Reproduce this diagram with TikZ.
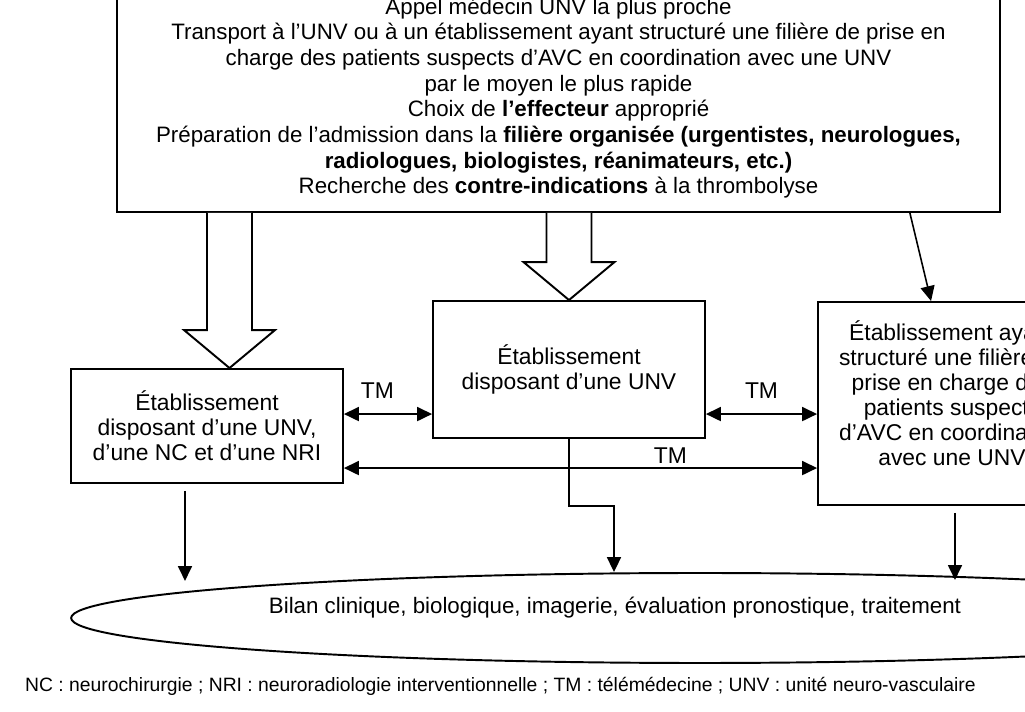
\documentclass[tikz,border=0pt]{standalone}
\usepackage{fontspec}
\setmainfont{Liberation Sans}
\usetikzlibrary{shapes.geometric,arrows.meta,positioning,calc}

\newcommand{\grossefleche}[2]{% #1 = depart, #2 = pointe
  \draw[creuse] ($(#1)+(-22.5,0)$) -- ($(#2)+(-22.5,-38)$) -- ($(#2)+(-45.5,-38)$) -- (#2)
    -- ($(#2)+(45.5,-38)$) -- ($(#2)+(22.5,-38)$) -- ($(#1)+(22.5,0)$);
}

\begin{document}
\begin{tikzpicture}[x=0.02cm, y=-0.02cm,
    font=\fontsize{13}{14.2}\selectfont,
    boite/.style={rectangle, draw, line width=1.1pt, align=center, inner sep=0pt, minimum width=5.44cm},
    fleche/.style={-{Triangle[length=8.5pt,width=8pt]}, line width=0.9pt},
    tm/.style={{Triangle[length=8.5pt,width=8pt]}-{Triangle[length=8.5pt,width=8pt]}, line width=0.9pt},
    creuse/.style={line width=1.1pt, fill=white, line join=miter}
]
    \useasboundingbox (0,0) rectangle (1025,712);
    \clip (0,0) rectangle (1025,712);

    % regulation
    \node[boite, minimum width=17.66cm, minimum height=4.56cm, font=\fontsize{12.7}{14.6}\selectfont] (regul) at (558.5,98) {Appel médecin UNV la plus proche\\
        Transport à l’UNV ou à un établissement ayant structuré une filière de prise en\\
        charge des patients suspects d’AVC en coordination avec une UNV\\
        par le moyen le plus rapide\\
        Choix de \textbf{l’effecteur} approprié\\
        Préparation de l’admission dans la \textbf{filière organisée (urgentistes, neurologues,}\\
        \textbf{radiologues, biologistes, réanimateurs, etc.)}\\
        Recherche des \textbf{contre-indications} à la thrombolyse};

    % etablissements
    \node[boite, minimum height=2.28cm] (unvnc) at (207,426) {Établissement\\disposant d’une UNV,\\d’une NC et d’une NRI};
    \node[boite, minimum height=2.74cm] (unv) at (569,369.5) {Établissement\\disposant d’une UNV};
    \node[boite, minimum width=5.36cm, minimum height=4.06cm, text depth=12pt] (filiere) at (952,403.5) {Établissement ayant\\structuré une filière de\\prise en charge des\\patients suspects\\d’AVC en coordination\\avec une UNV};

    \node[ellipse, draw, line width=1.1pt, inner sep=0pt, minimum width=25.16cm, minimum height=1.8cm] (bilan) at (700,618) {};
    \node[font=\fontsize{12.7}{14.2}\selectfont] (bilantxt) at (615,608) {Bilan clinique, biologique, imagerie, évaluation pronostique, traitement};

    \node[font=\fontsize{11}{13}\selectfont] (legende) at (500.5,686) {NC : neurochirurgie ; NRI : neuroradiologie interventionnelle ; TM : télémédecine ; UNV : unité neuro-vasculaire};

    % fleches de la regulation
    \coordinate (p1) at ($(unvnc.north)+(22.5,0)$);
    \coordinate (p2) at (unv.north);
    \grossefleche{regul.south -| p1}{p1}
    \grossefleche{regul.south -| p2}{p2}
    \draw[fleche] ($(regul.south east)+(-91,0)$) -- ($(filiere.north west)+(114,0)$);

    % telemedecine
    \draw[tm] ($(unvnc.north east)+(0,46)$) coordinate (t1) -- (t1 -| unv.west) node[pos=0.38, above=5pt] {TM};
    \draw[tm] ($(unv.north east)+(0,114)$) coordinate (t2) -- (t2 -| filiere.west) node[midway, above=5pt] {TM};
    \draw[tm] ($(unvnc.north east)+(0,100)$) coordinate (t3) -- (t3 -| filiere.west) node[pos=0.69, above=-1pt] {TM};

    % vers le bilan
    \draw[fleche] ($(unvnc.south)+(-22,7)$) -- ++(0,90);
    \draw[fleche] (unv.south) -- ++(0,67) -| ($(bilan.north)+(-86,0)$);
    \draw[fleche] ($(filiere.south)+(3,7)$) -- ++(0,67);
\end{tikzpicture}
\end{document}
